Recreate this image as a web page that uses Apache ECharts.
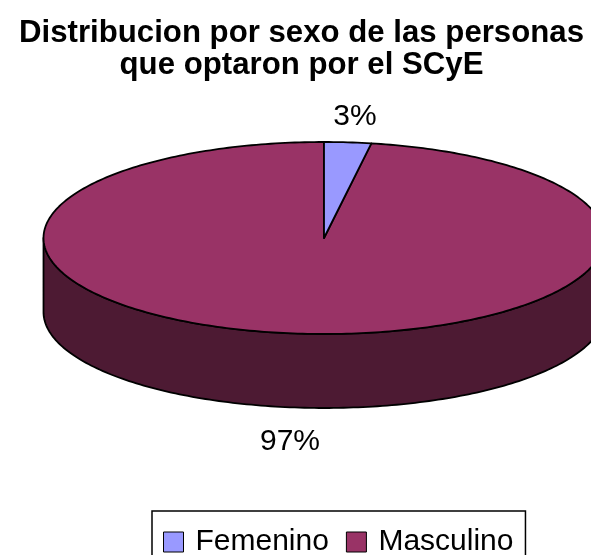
<!DOCTYPE html>
<html>
<head>
<meta charset="utf-8">
<style>html,body{margin:0;padding:0;background:#fff;overflow:hidden}#c{width:591px;height:555px}</style>
<script src="https://cdn.jsdelivr.net/npm/echarts@6/dist/echarts.min.js"></script>
</head>
<body>
<div id="c"></div>
<script>
var categories = ['Femenino', 'Masculino'];
var values = [2.7, 97.3];
var sliceColors = ['#9999FF', '#993366'];
var wallColor = '#4D1A33';
var titleLines = ['Distribucion por sexo de las personas', 'que optaron por el SCyE'];

// pie layout (px)
var CX = 324, CY = 238, RX = 280.5, RY = 96, DEPTH = 74;
var labelAt = [[355, 117], [290, 442]];
var FONT = '"Liberation Sans", Arial, sans-serif';

var total = values.reduce(function (a, b) { return a + b; }, 0);

function pt(a, dy) {
  return [CX + RX * Math.sin(a), CY + (dy || 0) - RY * Math.cos(a)];
}
function arc(a0, a1, dy) {
  var pts = [], n = Math.max(2, Math.ceil(Math.abs(a1 - a0) / (Math.PI / 180)));
  for (var i = 0; i <= n; i++) pts.push(pt(a0 + (a1 - a0) * i / n, dy));
  return pts;
}
function sliceRange(idx) {
  var s = 0;
  for (var i = 0; i < idx; i++) s += values[i];
  return [s / total * 2 * Math.PI, (s + values[idx]) / total * 2 * Math.PI];
}
var stroke = { stroke: '#000', lineWidth: 1.8, lineJoin: 'round' };

function makeRender(idx) {
  return function (params, api) {
    var r = sliceRange(idx), kids = [];
    var lo = Math.max(r[0], Math.PI / 2), hi = Math.min(r[1], Math.PI * 1.5);
    if (hi > lo) {
      var wall = arc(lo, hi, 0).concat(arc(hi, lo, DEPTH));
      kids.push({ type: 'polygon', shape: { points: wall },
        style: Object.assign({ fill: wallColor }, stroke) });
    }
    var top = [[CX, CY]].concat(arc(r[0], r[1], 0));
    kids.push({ type: 'polygon', shape: { points: top },
      style: Object.assign({ fill: sliceColors[idx] }, stroke) });
    kids.push({ type: 'text', x: labelAt[idx][0], y: labelAt[idx][1],
      style: { text: Math.round(api.value(0) / total * 100) + '%', fill: '#000',
        font: '30px ' + FONT, align: 'center', verticalAlign: 'middle' } });
    return { type: 'group', children: kids };
  };
}

var series = [1, 0].map(function (i) {
  return {
    type: 'custom', name: categories[i], coordinateSystem: 'none',
    data: [[values[i]]], renderItem: makeRender(i), clip: false, animation: false,
    silent: true, itemStyle: { color: sliceColors[i] }
  };
});

var chart = echarts.init(document.getElementById('c'), null, { renderer: 'canvas' });
chart.setOption({
  animation: false,
  backgroundColor: '#fff',
  title: {
    text: titleLines.join('\n'), left: 296.5, top: 12.5, textAlign: 'center',
    textStyle: { fontFamily: FONT, fontWeight: 'bold', fontSize: 31.2, lineHeight: 32, color: '#000' }
  },
  legend: {
    data: categories, left: 152, top: 511, orient: 'horizontal',
    icon: 'rect', itemWidth: 20, itemHeight: 20, itemGap: 17,
    padding: [16, 12, 16, 11], borderColor: '#000', borderWidth: 1.5, selectedMode: false,
    itemStyle: { borderColor: '#000', borderWidth: 1 },
    textStyle: { fontFamily: FONT, fontSize: 30, color: '#000', padding: [0, 0, 0, 7] }
  },
  series: series
});
</script>
</body>
</html>
